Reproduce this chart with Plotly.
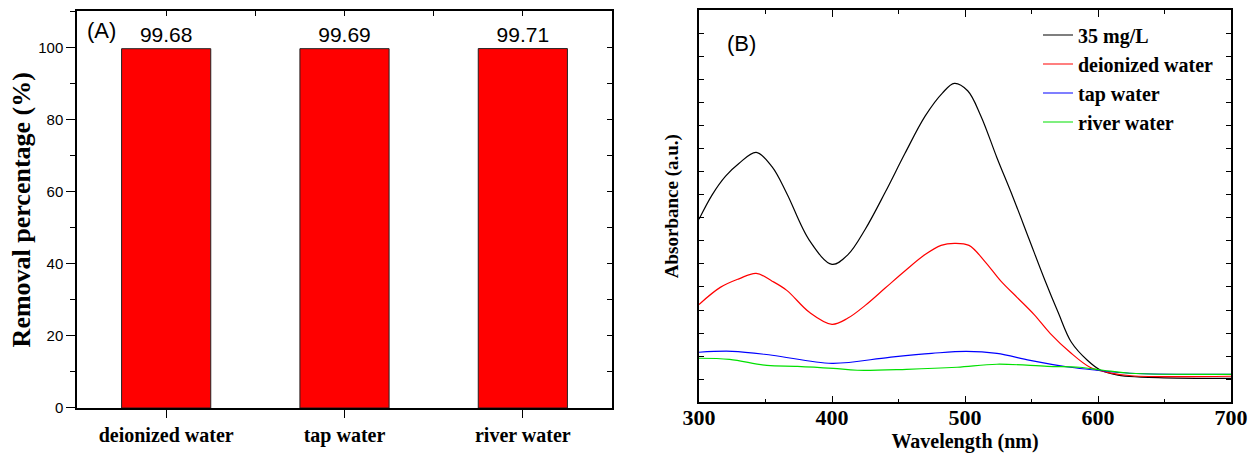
import plotly.graph_objects as go

# ---- Panel A data ----
categories = ["deionized water", "tap water", "river water"]
removal = [99.68, 99.69, 99.71]
removal_labels = ["99.68", "99.69", "99.71"]

# ---- Panel B data (absorbance, arbitrary units) ----
wl_black = [300, 310, 320, 330, 343, 355, 366, 383, 400, 412, 425, 440, 455, 470, 483, 492, 502, 512, 524, 536, 548, 560, 570, 580, 592, 602, 615, 630, 660, 700]
abs_black = [7.93, 9.0, 9.8, 10.35, 10.83, 10.2, 9.05, 7.02, 5.98, 6.4, 7.5, 9.1, 10.8, 12.4, 13.4, 13.82, 13.5, 12.4, 10.6, 8.9, 7.1, 5.3, 3.9, 2.6, 1.82, 1.39, 1.18, 1.10, 1.05, 1.04]

wl_red = [300, 316, 330, 343, 355, 366, 383, 400, 412, 425, 440, 455, 470, 482, 492, 503, 515, 527, 540, 552, 564, 579, 594, 607, 625, 700]
abs_red = [4.24, 4.98, 5.35, 5.59, 5.25, 4.85, 3.90, 3.38, 3.65, 4.2, 4.95, 5.7, 6.4, 6.8, 6.89, 6.8, 6.1, 5.25, 4.5, 3.8, 2.99, 2.17, 1.52, 1.30, 1.15, 1.13]

wl_blue = [300, 325, 355, 400, 443, 475, 501, 524, 549, 579, 599, 624, 700]
abs_blue = [2.17, 2.21, 2.04, 1.69, 1.95, 2.12, 2.21, 2.12, 1.82, 1.52, 1.39, 1.26, 1.21]

wl_green = [300, 323, 351, 374, 401, 419, 456, 494, 524, 562, 586, 604, 624, 700]
abs_green = [1.91, 1.86, 1.60, 1.56, 1.47, 1.39, 1.43, 1.52, 1.65, 1.56, 1.52, 1.39, 1.26, 1.21]

series_names = ["35 mg/L", "deionized water", "tap water", "river water"]
series_colors = ["#000000", "#FF0000", "#0000FF", "#00E000"]

W, H = 1254, 459
ML, MR, MT, MB = 77, 23, 9.5, 51.3
PW, PH = W - ML - MR, H - MT - MB


def px(x):
    return (x - ML) / PW


def py(y):
    return (H - MB - y) / PH


serif_b = dict(family="Liberation Serif, Times New Roman, serif", color="black", weight="bold")
arial = dict(family="Liberation Sans, Arial, sans-serif", color="black")

fig = go.Figure()

fig.add_trace(go.Bar(
    x=[0, 1, 2], y=removal, text=removal_labels, textposition="outside",
    textfont=dict(size=21, **arial), cliponaxis=False,
    marker=dict(color="#FF0000", line=dict(color="#222222", width=1)),
    width=0.5, xaxis="x", yaxis="y", showlegend=False, hoverinfo="skip"))

# invisible helpers so the mirrored inside-tick axes of panel A are drawn
fig.add_trace(go.Scatter(x=[], y=[], xaxis="x3", yaxis="y", showlegend=False))
fig.add_trace(go.Scatter(x=[], y=[], xaxis="x", yaxis="y3", showlegend=False))

for wl, ab, nm, col in zip([wl_black, wl_red, wl_blue, wl_green],
                           [abs_black, abs_red, abs_blue, abs_green],
                           series_names, series_colors):
    fig.add_trace(go.Scatter(x=wl, y=ab, mode="lines", name=nm,
                             line=dict(color=col, width=1.2, shape="spline", smoothing=1.0),
                             xaxis="x2", yaxis="y2"))

fig.update_layout(
    width=W, height=H, margin=dict(l=ML, r=MR, t=MT, b=MB, autoexpand=False),
    paper_bgcolor="white", plot_bgcolor="white",
    xaxis=dict(domain=[px(77), px(612)], anchor="y", range=[-0.5, 2.5],
               tickvals=[0, 1, 2], ticktext=categories,
               ticks="outside", ticklen=8, tickwidth=1.3, tickcolor="black",
               tickfont=dict(size=20, **serif_b), automargin=False,
               showline=True, linecolor="black", linewidth=1.5, mirror=True,
               showgrid=False, zeroline=False),
    xaxis3=dict(overlaying="x", anchor="y", side="top", range=[-0.5, 2.5],
                tickvals=[0, 0.5, 1, 1.5, 2], showticklabels=False,
                ticks="inside", ticklen=5, tickwidth=1, tickcolor="black",
                showline=False, showgrid=False, zeroline=False, automargin=False),
    yaxis=dict(domain=[py(407.7), py(11)], anchor="x", range=[0, 110],
               tickvals=[0, 20, 40, 60, 80, 100],
               ticks="outside", ticklen=9, tickwidth=1.3, tickcolor="black",
               minor=dict(dtick=10, ticks="outside", ticklen=5, tickcolor="black", tickwidth=1),
               tickfont=dict(size=15, **arial), automargin=False,
               title=dict(text="Removal percentage (%)", font=dict(size=26, **serif_b), standoff=0),
               showline=True, linecolor="black", linewidth=1.5, mirror=True,
               showgrid=False, zeroline=False),
    yaxis3=dict(overlaying="y", anchor="x", side="right", range=[0, 110],
                dtick=10, showticklabels=False,
                ticks="inside", ticklen=5, tickwidth=1, tickcolor="black",
                showline=False, showgrid=False, zeroline=False, automargin=False),
    xaxis2=dict(domain=[px(699), px(1231)], anchor="y2", range=[300, 700], dtick=100,
                ticks="inside", ticklen=7, tickwidth=1.2, tickcolor="black",
                minor=dict(dtick=50, ticks="inside", ticklen=4, tickcolor="black"),
                tickfont=dict(size=22, **serif_b), automargin=False, ticklabelstandoff=-5,
                title=dict(text="Wavelength (nm)", font=dict(size=20, **serif_b), standoff=0),
                showline=True, linecolor="black", linewidth=1.5, mirror="ticks",
                showgrid=False, zeroline=False),
    yaxis2=dict(domain=[py(402), py(9.5)], anchor="x2", range=[0, 17], dtick=1,
                showticklabels=False, automargin=False,
                ticks="inside", ticklen=5, tickwidth=1, tickcolor="black",
                title=dict(text="Absorbance (a.u.)", font=dict(size=19, **serif_b), standoff=14),
                showline=True, linecolor="black", linewidth=1.5, mirror="ticks",
                showgrid=False, zeroline=False),
    legend=dict(x=px(1038), y=py(15), xanchor="left", yanchor="top",
                font=dict(size=20, **serif_b), bgcolor="rgba(0,0,0,0)",
                tracegroupgap=0, itemwidth=30),
    annotations=[
        dict(text="(A)", x=px(85), y=py(30), xref="paper", yref="paper",
             xanchor="left", yanchor="middle", showarrow=False, font=dict(size=22, **arial)),
        dict(text="(B)", x=px(725), y=py(43), xref="paper", yref="paper",
             xanchor="left", yanchor="middle", showarrow=False, font=dict(size=22, **arial)),
    ],
)

fig.write_html("out.html")
